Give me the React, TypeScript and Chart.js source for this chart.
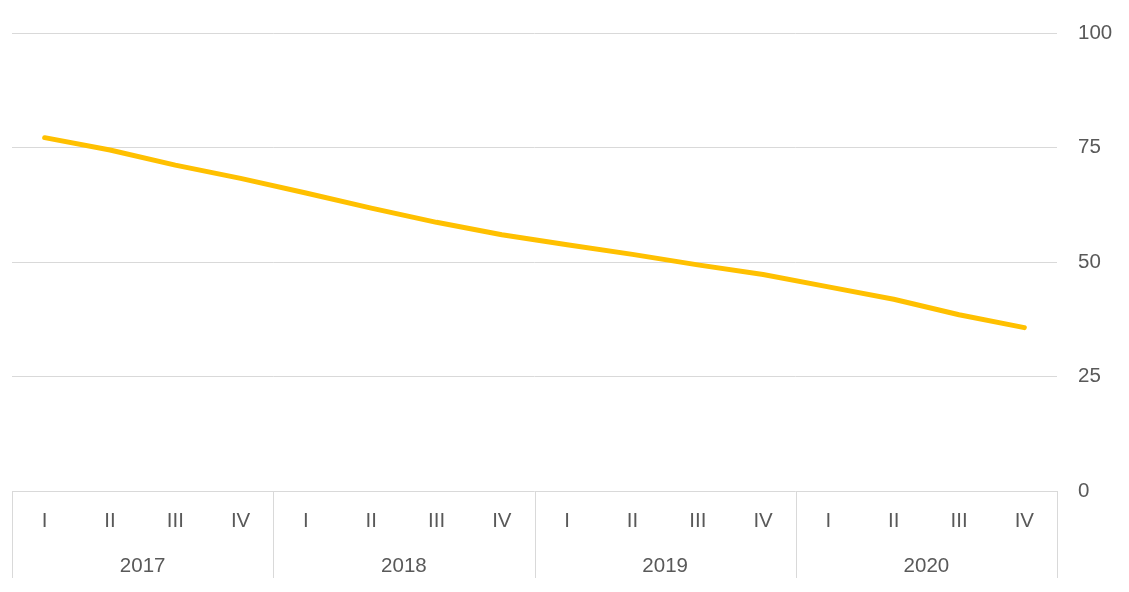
import React, { useEffect, useRef } from "react";
import { Chart, registerables } from "chart.js";

Chart.register(...registerables);

const quarterLabels = [
  "I", "II", "III", "IV",
  "I", "II", "III", "IV",
  "I", "II", "III", "IV",
  "I", "II", "III", "IV",
];
const yearLabels = ["2017", "2018", "2019", "2020"];
const seriesValues = [
  77.2, 74.5, 71.2, 68.3,
  65.1, 61.8, 58.7, 56.0,
  53.8, 51.7, 49.4, 47.3,
  44.6, 41.9, 38.5, 35.7,
];
const yTicks = [0, 25, 50, 75, 100];

const FONT = "'Liberation Sans', Arial, sans-serif";
const TEXT = "#595959";
const GRID = "#d9d9d9";
const FONT_SIZE = 20.5;

const boxPlugin = {
  id: "yearBox",
  afterDraw(chart: any) {
    const x = chart.scales.x;
    const x2 = chart.scales.x2;
    const ctx = chart.ctx;
    const top = chart.chartArea.bottom;
    const bottom = x2.bottom;
    ctx.save();
    ctx.strokeStyle = GRID;
    ctx.lineWidth = 1;
    for (let i = 0; i <= quarterLabels.length; i += 4) {
      const px = Math.round(x.getPixelForValue(i - 0.5)) + 0.5;
      ctx.beginPath();
      ctx.moveTo(px, top);
      ctx.lineTo(px, bottom);
      ctx.stroke();
    }
    ctx.restore();
  },
};

export default function App() {
  const ref = useRef<HTMLCanvasElement | null>(null);
  useEffect(() => {
    if (!ref.current) return;
    const chart = new Chart(ref.current, {
      type: "line",
      data: {
        labels: quarterLabels,
        datasets: [
          {
            data: seriesValues,
            xAxisID: "x",
            yAxisID: "y",
            borderColor: "#FFC000",
            backgroundColor: "#FFC000",
            borderWidth: 5,
            borderCapStyle: "round",
            borderJoinStyle: "round",
            pointRadius: 0,
            tension: 0,
            fill: false,
          },
        ],
      },
      options: {
        animation: false,
        responsive: true,
        maintainAspectRatio: false,
        layout: { padding: { top: 32, left: 12, right: 12, bottom: 14 } },
        plugins: { legend: { display: false }, tooltip: { enabled: false } },
        scales: {
          x: {
            type: "category",
            position: "bottom",
            offset: true,
            weight: 0,
            grid: { display: false, drawTicks: false },
            border: { display: false },
            afterFit: (axis: any) => {
              axis.height = 41;
            },
            ticks: {
              color: TEXT,
              font: { family: FONT, size: FONT_SIZE },
              padding: 18,
              maxRotation: 0,
              autoSkip: false,
            },
          },
          x2: {
            type: "category",
            position: "bottom",
            labels: yearLabels,
            offset: true,
            weight: 1,
            grid: { display: false, drawTicks: false },
            border: { display: false },
            afterFit: (axis: any) => {
              axis.height = 46;
            },
            ticks: {
              color: TEXT,
              font: { family: FONT, size: FONT_SIZE },
              padding: 22,
              maxRotation: 0,
              autoSkip: false,
            },
          },
          y: {
            position: "right",
            min: 0,
            max: 100,
            afterBuildTicks: (axis: any) => {
              axis.ticks = yTicks.map((v) => ({ value: v }));
            },
            afterFit: (axis: any) => {
              axis.width = 60;
            },
            grid: { color: GRID, lineWidth: 1, drawTicks: false },
            border: { display: false },
            ticks: {
              color: TEXT,
              font: { family: FONT, size: FONT_SIZE },
              padding: 21,
            },
          },
        },
      },
      plugins: [boxPlugin],
    });
    return () => chart.destroy();
  }, []);
  return (
    <div style={{ position: "fixed", left: 0, top: 0, width: 1129, height: 592 }}>
      <canvas ref={ref} />
    </div>
  );
}
